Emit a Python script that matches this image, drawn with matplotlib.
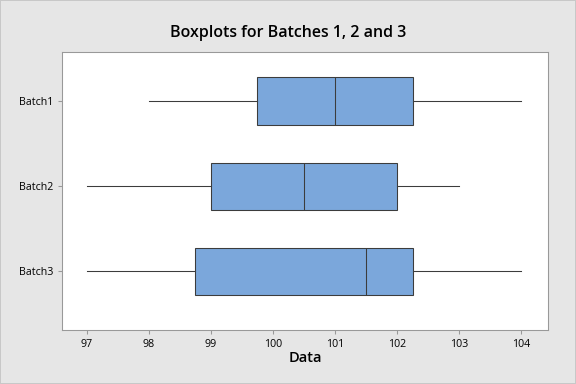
import matplotlib
matplotlib.use('Agg')
import matplotlib.pyplot as plt
from matplotlib.patches import Rectangle

# five-number summaries
batches = ['Batch1', 'Batch2', 'Batch3']
mins = [98.0, 97.0, 97.0]
q1s = [99.75, 99.0, 98.75]
medians = [101.0, 100.5, 101.5]
q3s = [102.25, 102.0, 102.25]
maxs = [104.0, 103.0, 104.0]
xticks = [97, 98, 99, 100, 101, 102, 103, 104]

plt.rcParams['font.family'] = ['Open Sans', 'DejaVu Sans']

fig = plt.figure(figsize=(6, 4), dpi=96, facecolor='#e6e6e6')
fig.patches.append(Rectangle((0, 0), 1, 1, transform=fig.transFigure,
                             fill=False, ec='#c8c8c8', lw=1.5))
ax = fig.add_axes([0.1076, 0.1406, 0.8434, 0.724])

stats = []
for i in range(len(batches)):
  stats.append({'label': batches[i], 'whislo': mins[i], 'q1': q1s[i],
                'med': medians[i], 'q3': q3s[i], 'whishi': maxs[i], 'fliers': []})

ax.bxp(stats, positions=[1, 2, 3], vert=False, widths=0.56, patch_artist=True,
       showcaps=False,
       boxprops=dict(facecolor='#7ba7db', edgecolor='#3c3c3c', linewidth=0.8),
       medianprops=dict(color='#3c3c3c', linewidth=0.8),
       whiskerprops=dict(color='#3c3c3c', linewidth=0.8))

ax.set_xlim(96.6, 104.43)
ax.set_ylim(3.69, 0.42)
ax.set_xticks(xticks)
ax.set_xticklabels([str(t) for t in xticks])
ax.set_yticks([1, 2, 3])
ax.set_yticklabels(batches)
ax.tick_params(labelsize=8, color='#999999', length=3)
for s in ax.spines.values():
  s.set_color('#999999')

ax.set_xlabel('Data', fontsize=11, fontweight='semibold', labelpad=1)
fig.suptitle('Boxplots for Batches 1, 2 and 3', y=0.935, fontsize=12, fontweight='semibold')

fig.savefig('out.png', dpi=96, facecolor=fig.get_facecolor())
